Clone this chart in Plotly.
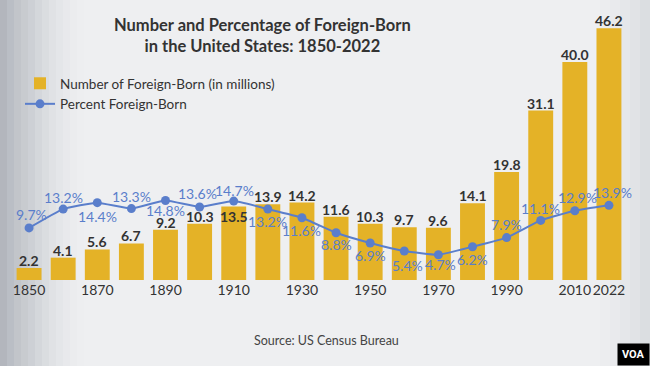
import plotly.graph_objects as go

years = ["1850", "1860", "1870", "1880", "1890", "1900", "1910", "1920", "1930",
         "1940", "1950", "1960", "1970", "1980", "1990", "2000", "2010", "2022"]
number_millions = [2.2, 4.1, 5.6, 6.7, 9.2, 10.3, 13.5, 13.9, 14.2,
                   11.6, 10.3, 9.7, 9.6, 14.1, 19.8, 31.1, 40.0, 46.2]
percent_foreign = [9.7, 13.2, 14.4, 13.3, 14.8, 13.6, 14.7, 13.2, 11.6,
                   8.8, 6.9, 5.4, 4.7, 6.2, 7.9, 11.1, 12.9, 13.9]
tick_years = ["1850", "1870", "1890", "1910", "1930", "1950", "1970", "1990", "2010", "2022"]
# label offset (px) of each percent label from its point: negative = above
pct_label_dy = [-13, -12, 14, -12, 10, -13, -11, 12, 13, 12, 13, 14, 10, 13, -13, -12, -13, -13]
pct_label_dx = [2, 0, 0, 0, 0, -2, 1, 0, 0, 0, 0, 3, 2, 0, 0, 0, 3, 4]
inside_label_bar = "1910"

BAR = "#E4B227"
LINE = "#5A7ECB"
DARK = "#333333"
FONT = "Lato"

W, H = 650, 366
ML, MR, MT, MB = 12, 24, 15, 86
PW, PH = W - ML - MR, H - MT - MB


def px_x(x):
    return (x - ML) / PW


def px_y(y):
    return 1 - (y - MT) / PH


fig = go.Figure()
fig.add_trace(go.Bar(
    x=years, y=number_millions, name="Number of Foreign-Born (in millions)",
    marker=dict(color=BAR, line=dict(width=0)),
))
fig.add_trace(go.Scatter(
    x=years, y=percent_foreign, yaxis="y2", name="Percent Foreign-Born",
    mode="lines+markers",
    line=dict(color=LINE, width=2, shape="spline", smoothing=0.4),
    marker=dict(color=LINE, size=9),
    cliponaxis=False,
))

annotations = []
for i, (yr, v) in enumerate(zip(years, number_millions)):
    inside = yr == inside_label_bar
    annotations.append(dict(x=i, y=v, xref="x", yref="y", text=f"{v:.1f}", showarrow=False,
                            xanchor="center", yanchor="top" if inside else "bottom",
                            yshift=0 if inside else -3,
                            font=dict(family=FONT, size=14, color=DARK, weight="bold")))
for i, (v, dy, dx) in enumerate(zip(percent_foreign, pct_label_dy, pct_label_dx)):
    annotations.append(dict(x=i, y=v, xref="x", yref="y2", text=f"{v}%", showarrow=False,
                            xanchor="center", yanchor="middle", yshift=-dy, xshift=dx,
                            font=dict(family=FONT, size=14, color=LINE)))

# darker left edge of the background
shapes = []
for i, op in enumerate([0.06, 0.055, 0.05, 0.045, 0.04, 0.035, 0.03, 0.025, 0.02, 0.015, 0.01, 0.008]):
    shapes.append(dict(type="rect", xref="paper", yref="paper",
                       x0=px_x(0), x1=px_x(7 * (i + 1)), y0=px_y(H), y1=px_y(0),
                       fillcolor="#4a5266", opacity=op, line=dict(width=0), layer="below"))
for i, op in enumerate([0.03, 0.025, 0.02, 0.015, 0.01]):
    shapes.append(dict(type="rect", xref="paper", yref="paper",
                       x0=px_x(W - 10 * (i + 1)), x1=px_x(W), y0=px_y(H), y1=px_y(0),
                       fillcolor="#4a5266", opacity=op, line=dict(width=0), layer="below"))

annotations += [
    dict(text="<b>Number and Percentage of Foreign-Born<br>in the United States: 1850-2022</b>",
         xref="paper", yref="paper", x=px_x(262), y=px_y(13), xanchor="center", yanchor="top",
         showarrow=False, font=dict(family=FONT, size=16.5, color=DARK)),
    dict(text="Source: US Census Bureau", xref="paper", yref="paper",
         x=px_x(326), y=px_y(340), xanchor="center", yanchor="middle",
         showarrow=False, font=dict(family=FONT, size=12.5, color="#444444")),
    dict(text="<b>VOA</b>", xref="paper", yref="paper", x=px_x(650), y=px_y(366),
         xanchor="right", yanchor="bottom", showarrow=False, bgcolor="#000000", borderpad=4,
         font=dict(family="Roboto", size=11, color="#ffffff")),
]

fig.update_layout(
    width=W, height=H,
    margin=dict(l=ML, r=MR, t=MT, b=MB, autoexpand=False),
    paper_bgcolor="#eeeff1", plot_bgcolor="rgba(0,0,0,0)",
    bargap=0.27,
    showlegend=True,
    legend=dict(x=px_x(20), y=px_y(68), xanchor="left", yanchor="top", bgcolor="rgba(0,0,0,0)",
                font=dict(family=FONT, size=13.5, color=DARK), tracegroupgap=0),
    xaxis=dict(type="category", tickmode="array", tickvals=tick_years, ticktext=tick_years,
               showgrid=False, showline=False, zeroline=False, ticks="", tickangle=0,
               tickfont=dict(family=FONT, size=14, color=DARK), range=[-0.5, 17.5]),
    yaxis=dict(range=[0, PH / 5.45], visible=False, showgrid=False),
    yaxis2=dict(range=[0, PH / 5.37], overlaying="y", visible=False, showgrid=False),
    shapes=shapes,
    annotations=annotations,
)
fig.write_html("out.html", config={"displayModeBar": False},
               post_script="document.body.style.margin='0';document.body.style.overflow='hidden';")
